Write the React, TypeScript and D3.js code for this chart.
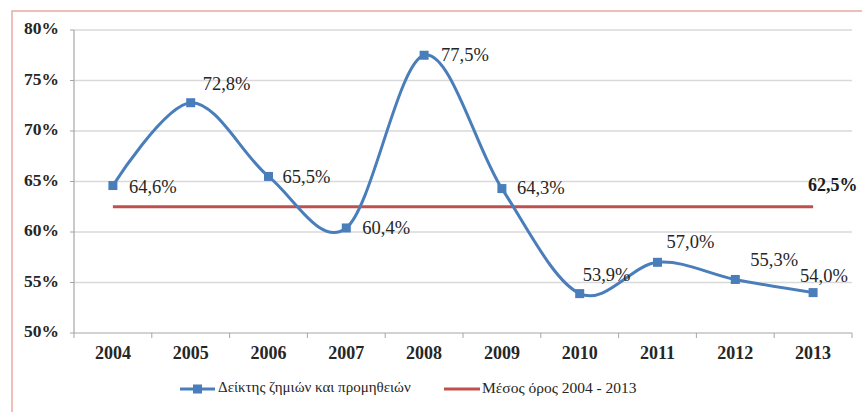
import React from 'react';
import * as d3 from 'd3';

// chart data
const years = ['2004', '2005', '2006', '2007', '2008', '2009', '2010', '2011', '2012', '2013'];
const lossRatio = [64.6, 72.8, 65.5, 60.4, 77.5, 64.3, 53.9, 57.0, 55.3, 54.0];
const averageValue = 62.5;
const yTicks = [50, 55, 60, 65, 70, 75, 80];
const seriesName = 'Δείκτης ζημιών και προμηθειών';
const averageName = 'Μέσος όρος 2004 - 2013';

// label placement (dx, dy from each point), as in the original
const labelOffsets: [number, number][] = [
  [16, 3], [12, -17], [14, 2], [16, 2], [17, 1],
  [15, 1], [3, -17], [9, -19], [15, -18], [-13, -15],
];

const fmt = (v: number) => v.toFixed(1).replace('.', ',') + '%';

const W = 862;
const H = 412;
const BLUE = '#4a7ebb';
const RED = '#c0504d';
const AXIS = '#a6a6a6';
const TEXT = '#262626';
const FONT = '"Liberation Serif", "Times New Roman", serif';

const plot = { left: 74, right: 852, top: 30, bottom: 333 };

const App: React.FC = () => {
  const x = d3.scaleBand().domain(years).range([plot.left, plot.right]);
  const cx = (d: string) => (x(d) ?? 0) + x.bandwidth() / 2;
  const y = d3.scaleLinear().domain([50, 80]).range([plot.bottom, plot.top]);

  const pts: [number, number][] = years.map((d, i) => [cx(d), y(lossRatio[i])]);
  const linePath = d3.line().curve(d3.curveCardinal.tension(0))(pts) || '';
  const boundaries = years.map((d) => x(d) ?? 0).concat([plot.right]);
  const lastX = cx(years[years.length - 1]);
  const ly = 389;

  return (
    <svg
      width={W}
      height={H}
      style={{ position: 'absolute', left: 0, top: 0, background: '#fff', fontFamily: FONT }}
    >
      {/* outer frame, cut off at right and bottom */}
      <rect x={12} y={11} width={W} height={H} fill="none" stroke="#e9aaa0" strokeWidth={1.5} />

      {/* grid */}
      {yTicks.filter((t) => t > 50).map((t) => (
        <line key={t} x1={plot.left} x2={plot.right} y1={y(t)} y2={y(t)} stroke="#d9d9d9" strokeWidth={1.5} />
      ))}

      {/* y axis */}
      <line x1={plot.left} x2={plot.left} y1={plot.top} y2={plot.bottom} stroke={AXIS} strokeWidth={1.2} />
      {yTicks.map((t) => (
        <g key={t}>
          <line x1={plot.left - 4} x2={plot.left} y1={y(t)} y2={y(t)} stroke={AXIS} />
          <text
            x={plot.left - 15}
            y={y(t)}
            textAnchor="end"
            dominantBaseline="middle"
            fill={TEXT}
            style={{ fontFamily: FONT, fontSize: 17.5, fontWeight: 'bold' }}
          >
            {t}%
          </text>
        </g>
      ))}

      {/* x axis */}
      <line x1={plot.left} x2={plot.right} y1={plot.bottom} y2={plot.bottom} stroke={AXIS} strokeWidth={1.2} />
      {boundaries.map((b) => (
        <line key={b} x1={b} x2={b} y1={plot.bottom} y2={plot.bottom + 5} stroke={AXIS} />
      ))}
      {years.map((d) => (
        <text
          key={d}
          x={cx(d)}
          y={plot.bottom + 22}
          textAnchor="middle"
          dominantBaseline="middle"
          fill={TEXT}
          style={{ fontFamily: FONT, fontSize: 18, fontWeight: 'bold' }}
        >
          {d}
        </text>
      ))}

      {/* average line */}
      <line x1={cx(years[0])} x2={lastX} y1={y(averageValue)} y2={y(averageValue)} stroke={RED} strokeWidth={3} />

      {/* series */}
      <path d={linePath} fill="none" stroke={BLUE} strokeWidth={3} />
      {pts.map((p, i) => (
        <rect key={i} x={p[0] - 4.5} y={p[1] - 4.5} width={9} height={9} fill={BLUE} />
      ))}

      {/* data labels */}
      {pts.map((p, i) => (
        <text
          key={i}
          x={p[0] + labelOffsets[i][0]}
          y={p[1] + labelOffsets[i][1]}
          dominantBaseline="middle"
          fill={TEXT}
          style={{ fontFamily: FONT, fontSize: 18.5 }}
        >
          {fmt(lossRatio[i])}
        </text>
      ))}
      <text
        x={lastX - 5}
        y={y(averageValue) - 20}
        dominantBaseline="middle"
        fill="#1a1a1a"
        style={{ fontFamily: FONT, fontSize: 18, fontWeight: 'bold' }}
      >
        {fmt(averageValue)}
      </text>

      {/* legend */}
      <line x1={180} x2={215} y1={ly} y2={ly} stroke={BLUE} strokeWidth={3} />
      <rect x={193} y={ly - 4.5} width={9} height={9} fill={BLUE} />
      <text x={218} y={ly} dominantBaseline="middle" fill={TEXT} style={{ fontFamily: FONT, fontSize: 15 }}>
        {seriesName}
      </text>
      <line x1={444} x2={480} y1={ly} y2={ly} stroke={RED} strokeWidth={3} />
      <text x={482} y={ly} dominantBaseline="middle" fill={TEXT} style={{ fontFamily: FONT, fontSize: 15.5 }}>
        {averageName}
      </text>
    </svg>
  );
};

export default App;
